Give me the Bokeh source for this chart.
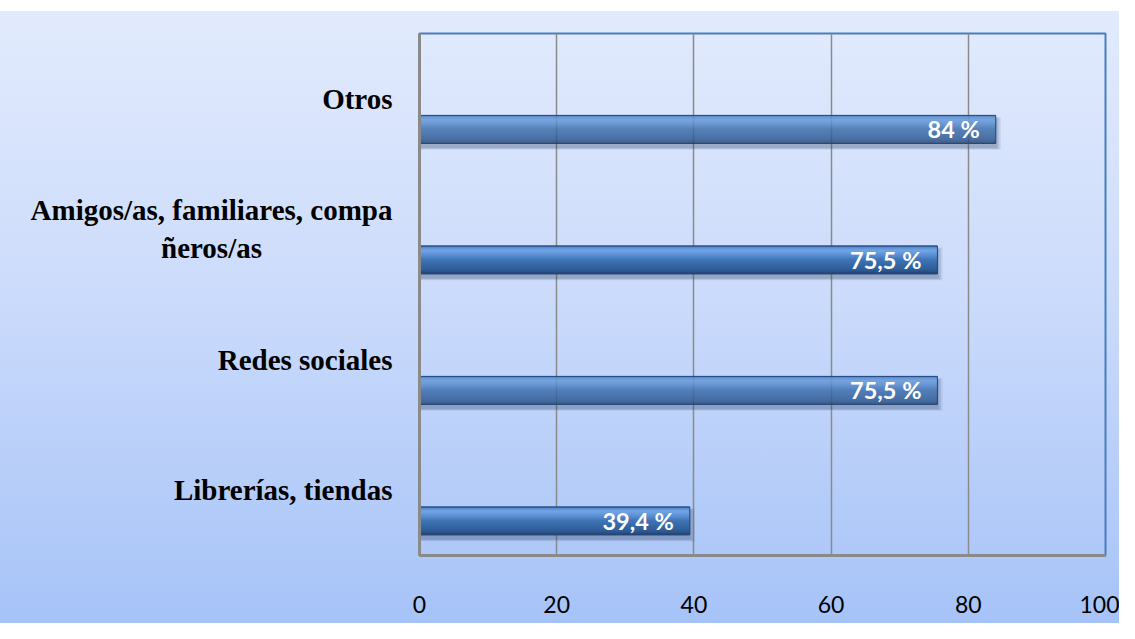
from bokeh.plotting import figure
from bokeh.models import ColumnDataSource, FixedTicker, Range1d
from bokeh.core.properties import value
from bokeh.embed import file_html
from bokeh.resources import INLINE

# ---- data ----
categories = ["Librerías, tiendas", "Redes sociales",
              "Amigos/as, familiares, compa\nñeros/as", "Otros"]
values = [39.4, 75.5, 75.5, 84.0]
value_labels = ["39,4 %", "75,5 %", "75,5 %", "84 %"]
x_ticks = [0, 20, 40, 60, 80, 100]

# ---- style ----
cat_pos = [i + 0.5 for i in range(len(categories))]
bar_shift = 0.235     # bars sit below the category label
bar_h = 0.215
# right-padding (non-breaking spaces) so the wrapped second line looks centred
second_line_pad = 18

p = figure(width=1119, height=623, output_backend="svg", toolbar_location=None,
           x_range=Range1d(0, 100), y_range=Range1d(0, len(categories)),
           min_border_left=419, min_border_right=14, min_border_top=33,
           min_border_bottom=68)
p.border_fill_color = None
p.background_fill_color = None
p.styles = {"background": "linear-gradient(to bottom, #ffffff 0px, #ffffff 11px, #e2ebfd 11px, #cddcfb 45%, #a6c3f8 100%)"}

p.outline_line_color = "#4a7ebb"
p.outline_line_width = 2

centers = [c - bar_shift for c in cat_pos]
src = ColumnDataSource(dict(y=centers, v=values, lab=value_labels))

# shadow under bars
for k, a in enumerate([0.10, 0.14, 0.18]):
    grow = (3 - k) * 0.012
    sh = ColumnDataSource(dict(y=[c - 0.03 for c in centers], v=[v + 0.25 * (3 - k) for v in values]))
    p.hbar(y="y", left=0, right="v", height=bar_h + grow, source=sh,
           fill_color="#3a4d70", fill_alpha=a, line_color=None)

# bar body: smooth vertical gradient built from thin bands
stops = [(0.00, (0x2b, 0x52, 0x88)), (0.06, (0x5a, 0x8e, 0xd2)), (0.16, (0x72, 0xa4, 0xe5)),
         (0.32, (0x5a, 0x8f, 0xd4)), (0.48, (0x3f, 0x74, 0xb6)), (0.68, (0x35, 0x67, 0xa6)),
         (0.86, (0x2d, 0x5b, 0x95)), (0.95, (0x26, 0x4a, 0x7b)), (1.00, (0x20, 0x3e, 0x68))]

def color_at(f):
    for (f0, c0), (f1, c1) in zip(stops[:-1], stops[1:]):
        if f0 <= f <= f1:
            t = (f - f0) / (f1 - f0) if f1 > f0 else 0
            return "#%02x%02x%02x" % tuple(round(a + (b - a) * t) for a, b in zip(c0, c1))
    return "#203e68"

n_bands = 28
for j in range(n_bands):
    f_top = j / n_bands
    f_bot = (j + 1) / n_bands
    ys = [c + bar_h / 2 - (f_top + f_bot) / 2 * bar_h for c in centers]
    s = ColumnDataSource(dict(y=ys, v=values))
    p.hbar(y="y", left=0, right="v", height=bar_h / n_bands * 1.05, source=s,
           fill_color=color_at((f_top + f_bot) / 2), line_color=None)

p.hbar(y="y", left=0, right="v", height=bar_h, source=src,
       fill_color=None, line_color="#24467a", line_width=1)

p.text(x="v", y="y", text="lab", source=src, x_offset=-16,
       text_align="right", text_baseline="middle",
       text_font=value("Lato"), text_font_style="bold",
       text_font_size="23.5px", text_color="white")

# axes
p.xaxis.ticker = FixedTicker(ticks=x_ticks)
p.xaxis.major_label_text_font = "Lato"
p.xaxis.major_label_text_font_size = "23px"
p.xaxis.major_label_text_color = "#000000"
p.xaxis.major_label_standoff = 34
p.xaxis.major_tick_line_color = None
p.xaxis.minor_tick_line_color = None
p.xaxis.axis_line_color = "#8a8a8a"
p.xaxis.axis_line_width = 3

def pad_label(s):
    if "\n" in s:
        first, second = s.split("\n", 1)
        return first + "\n" + second + "\u00a0" * second_line_pad
    return s

p.yaxis.ticker = FixedTicker(ticks=cat_pos)
p.yaxis.major_label_overrides = {cat_pos[i]: pad_label(categories[i]) for i in range(len(categories))}
p.yaxis.major_label_text_font = "Liberation Serif"
p.yaxis.major_label_text_font_style = "bold"
p.yaxis.major_label_text_font_size = "29px"
p.yaxis.major_label_text_color = "#000000"
p.yaxis.major_label_standoff = 21
p.yaxis.major_tick_line_color = None
p.yaxis.minor_tick_line_color = None
p.yaxis.axis_line_color = "#8a8a8a"
p.yaxis.axis_line_width = 3

p.xgrid.grid_line_color = "#8a8a8a"
p.xgrid.grid_line_width = 1.5
p.ygrid.grid_line_color = None

open("out.html", "w").write(file_html(p, INLINE))
